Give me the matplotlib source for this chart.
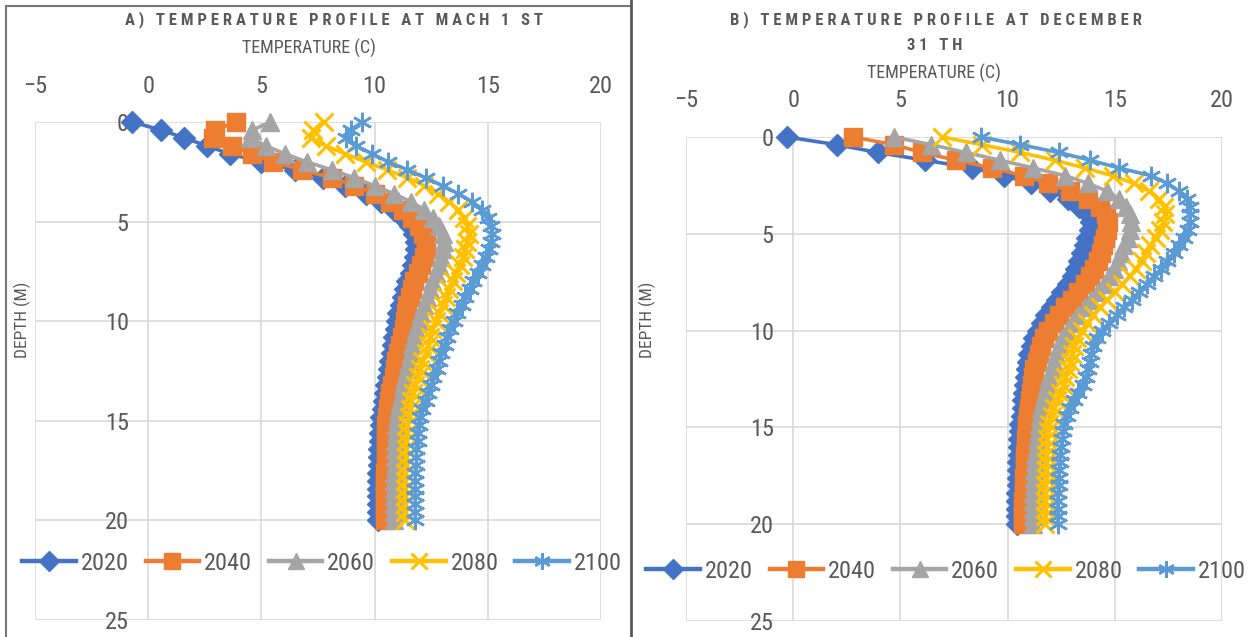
import matplotlib
matplotlib.use("Agg")
import matplotlib.pyplot as plt
from matplotlib import font_manager as fm
from matplotlib.lines import Line2D

# depth grid (m) and temperatures (C)
depth = [0.0, 0.4, 0.8, 1.2, 1.6, 2.0, 2.4, 2.8, 3.2, 3.6,
         4.0, 4.4, 4.8, 5.2, 5.6, 6.0, 6.4, 6.8, 7.2, 7.6,
         8.0, 8.4, 8.8, 9.2, 9.6, 10.0, 10.4, 10.8, 11.2, 11.6,
         12.0, 12.4, 12.8, 13.2, 13.6, 14.0, 14.4, 14.8, 15.2, 15.6,
         16.0, 16.4, 16.8, 17.2, 17.6, 18.0, 18.4, 18.8, 19.2, 19.6, 20.0]

mar_2020 = [-0.7, 0.55, 1.6, 2.6, 3.6, 5.0, 6.5, 7.7, 8.7, 9.6,
            10.3, 10.85, 11.25, 11.55, 11.75, 11.85, 11.85, 11.8, 11.7, 11.6,
            11.45, 11.35, 11.25, 11.15, 11.05, 11.0, 10.95, 10.85, 10.8, 10.75,
            10.7, 10.65, 10.6, 10.5, 10.45, 10.4, 10.35, 10.3, 10.3, 10.25,
            10.25, 10.2, 10.2, 10.2, 10.15, 10.15, 10.15, 10.15, 10.15, 10.15, 10.15]
mar_2040 = [3.9, 2.95, 2.85, 3.7, 4.6, 5.5, 6.8, 8.1, 9.1, 10.0,
            10.7, 11.25, 11.65, 11.95, 12.15, 12.25, 12.25, 12.2, 12.05, 11.9,
            11.75, 11.65, 11.55, 11.45, 11.4, 11.35, 11.3, 11.2, 11.1, 11.05,
            10.95, 10.9, 10.85, 10.75, 10.7, 10.65, 10.6, 10.55, 10.5, 10.5,
            10.5, 10.5, 10.5, 10.5, 10.45, 10.45, 10.45, 10.45, 10.45, 10.45, 10.45]
mar_2060 = [5.4, 4.6, 4.5, 5.2, 6.05, 7.0, 8.1, 9.1, 10.0, 10.85,
            11.6, 12.2, 12.6, 12.85, 13.0, 13.05, 13.0, 12.95, 12.85, 12.7,
            12.55, 12.45, 12.3, 12.2, 12.05, 11.95, 11.85, 11.75, 11.65, 11.6,
            11.5, 11.45, 11.35, 11.25, 11.2, 11.1, 11.05, 11.0, 10.95, 10.95,
            10.9, 10.9, 10.9, 10.9, 10.85, 10.85, 10.85, 10.85, 10.85, 10.85, 10.85]
mar_2080 = [7.75, 7.3, 7.2, 7.85, 8.7, 9.6, 10.55, 11.45, 12.2, 12.8,
            13.3, 13.7, 13.95, 14.1, 14.15, 14.1, 14.0, 13.9, 13.75, 13.6,
            13.45, 13.3, 13.15, 13.0, 12.85, 12.7, 12.55, 12.45, 12.35, 12.25,
            12.1, 12.0, 11.9, 11.8, 11.7, 11.6, 11.55, 11.5, 11.45, 11.45,
            11.4, 11.4, 11.4, 11.4, 11.35, 11.35, 11.35, 11.35, 11.35, 11.35, 11.35]
mar_2100 = [9.45, 8.95, 8.75, 9.2, 9.9, 10.6, 11.45, 12.25, 13.0, 13.7,
            14.3, 14.75, 15.0, 15.15, 15.2, 15.15, 15.05, 14.9, 14.75, 14.55,
            14.35, 14.2, 14.0, 13.85, 13.65, 13.5, 13.35, 13.2, 13.1, 12.95,
            12.85, 12.75, 12.6, 12.5, 12.35, 12.25, 12.1, 12.0, 11.95, 11.9,
            11.9, 11.85, 11.85, 11.85, 11.8, 11.8, 11.8, 11.8, 11.8, 11.8, 11.8]

dec_2020 = [-0.3, 2.05, 3.95, 6.15, 8.35, 9.85, 11.1, 12.0, 12.8, 13.35,
            13.75, 13.9, 13.85, 13.7, 13.6, 13.45, 13.35, 13.2, 13.05, 12.8,
            12.55, 12.3, 12.05, 11.8, 11.6, 11.4, 11.25, 11.12, 11.02, 10.95,
            10.9, 10.85, 10.8, 10.75, 10.7, 10.7, 10.65, 10.6, 10.6, 10.55,
            10.55, 10.55, 10.5, 10.5, 10.5, 10.5, 10.45, 10.45, 10.45, 10.45, 10.45]
dec_2040 = [2.8, 4.7, 6.0, 7.6, 9.25, 10.75, 11.9, 12.9, 13.75, 14.3,
            14.6, 14.7, 14.65, 14.55, 14.45, 14.35, 14.2, 14.05, 13.85, 13.6,
            13.3, 13.0, 12.7, 12.4, 12.15, 11.9, 11.7, 11.55, 11.45, 11.35,
            11.25, 11.2, 11.15, 11.1, 11.05, 11.0, 10.95, 10.9, 10.9, 10.85,
            10.85, 10.8, 10.8, 10.8, 10.75, 10.75, 10.75, 10.7, 10.7, 10.7, 10.7]
dec_2060 = [4.7, 6.45, 8.05, 9.65, 11.2, 12.7, 13.75, 14.65, 15.2, 15.5,
            15.7, 15.75, 15.7, 15.6, 15.45, 15.3, 15.15, 14.95, 14.75, 14.5,
            14.2, 13.9, 13.6, 13.3, 13.0, 12.75, 12.55, 12.4, 12.25, 12.15,
            12.05, 11.95, 11.85, 11.75, 11.65, 11.55, 11.5, 11.45, 11.4, 11.35,
            11.35, 11.3, 11.3, 11.25, 11.25, 11.25, 11.2, 11.2, 11.2, 11.2, 11.2]
dec_2080 = [6.95, 8.8, 10.6, 12.2, 13.6, 14.9, 15.9, 16.6, 17.05, 17.3,
            17.35, 17.25, 17.1, 16.9, 16.65, 16.45, 16.25, 16.0, 15.7, 15.35,
            15.0, 14.65, 14.3, 14.0, 13.7, 13.45, 13.25, 13.1, 13.0, 12.9,
            12.8, 12.7, 12.6, 12.45, 12.3, 12.15, 12.05, 11.95, 11.9, 11.85,
            11.85, 11.8, 11.8, 11.8, 11.8, 11.75, 11.75, 11.75, 11.75, 11.75, 11.75]
dec_2100 = [8.75, 10.6, 12.4, 13.85, 15.2, 16.7, 17.45, 18.0, 18.35, 18.5,
            18.5, 18.5, 18.4, 18.25, 18.0, 17.75, 17.45, 17.15, 16.85, 16.5,
            16.15, 15.8, 15.45, 15.1, 14.75, 14.4, 14.15, 14.0, 13.9, 13.82,
            13.75, 13.65, 13.5, 13.3, 13.1, 12.9, 12.75, 12.65, 12.6, 12.55,
            12.5, 12.45, 12.45, 12.4, 12.4, 12.4, 12.35, 12.35, 12.35, 12.35, 12.35]

years = ["2020", "2040", "2060", "2080", "2100"]
x_ticks = [-5, 0, 5, 10, 15, 20]
y_ticks = [0, 5, 10, 15, 20, 25]

colors = ["#4472C4", "#ED7D31", "#A5A5A5", "#FFC000", "#5B9BD5"]
markers = ["D", "s", "^", "x", (6, 2, 0)]
msizes = [11, 12.5, 13.5, 13, 14]
mews = [1, 1, 1, 2.2, 1.8]
leg_sizes = [10, 11, 11.5, 11, 12]
TXT = "#595959"

W, H = 1253, 637


def fx(px):
    return px / W


def fy(py):
    return 1 - py / H


def pick_font(names):
    for n in names:
        try:
            fm.findfont(fm.FontProperties(family=n), fallback_to_default=False)
            return n
        except ValueError:
            pass
    return "DejaVu Sans"


FONT = pick_font(["Liberation Sans Narrow", "Roboto Condensed", "Liberation Sans"])
plt.rcParams["font.family"] = [FONT, "DejaVu Sans"]


def spaced(s):
    return "   ".join(" ".join(w) for w in s.split(" "))


fig = plt.figure(figsize=(W / 100, H / 100), dpi=100)


def panel(rect, series, xpad):
    ax = fig.add_axes(rect)
    for vals, yr, c, m, ms, mw in zip(series, years, colors, markers, msizes, mews):
        ax.plot(vals, depth, color=c, lw=2.6, marker=m, ms=ms, mfc=c, mec=c,
                mew=mw, label=yr, clip_on=False)
    ax.set_xlim(-5, 20)
    ax.set_ylim(25, 0)
    ax.set_xticks(x_ticks)
    ax.set_yticks(y_ticks)
    ax.xaxis.tick_top()
    ax.grid(True, color="#d9d9d9", lw=1.2)
    ax.set_axisbelow(True)
    for s in ["top", "right", "bottom"]:
        ax.spines[s].set_visible(False)
    ax.spines["left"].set_position(("data", 0))
    ax.spines["left"].set_color("none")
    ax.tick_params(axis="both", length=0, labelsize=17.5, labelcolor=TXT)
    ax.tick_params(axis="x", pad=xpad)
    ax.tick_params(axis="y", pad=14)
    return ax


ax_a = panel([fx(35), fy(620), fx(601) - fx(35), fy(122) - fy(620)],
             [mar_2020, mar_2040, mar_2060, mar_2080, mar_2100], 17)
ax_b = panel([fx(686), fy(621), fx(1222) - fx(686), fy(137) - fy(621)],
             [dec_2020, dec_2040, dec_2060, dec_2080, dec_2100], 18)

# titles and axis titles
fig.text(fx(334), fy(20), spaced("A) TEMPERATURE PROFILE AT MACH 1 ST"),
         ha="center", va="center", fontsize=12, fontweight="bold", color=TXT)
fig.text(fx(309), fy(48), "TEMPERATURE (C)", ha="center", va="center",
         fontsize=13, color=TXT)
fig.text(fx(22), fy(320), "DEPTH (M)", ha="center", va="center",
         rotation=90, fontsize=12.5, color=TXT)

fig.text(fx(936), fy(20), spaced("B) TEMPERATURE PROFILE AT DECEMBER"),
         ha="center", va="center", fontsize=12, fontweight="bold", color=TXT)
fig.text(fx(935), fy(45), spaced("31 TH"), ha="center", va="center",
         fontsize=12, fontweight="bold", color=TXT)
fig.text(fx(934), fy(73), "TEMPERATURE (C)", ha="center", va="center",
         fontsize=13, color=TXT)
fig.text(fx(647), fy(320), "DEPTH (M)", ha="center", va="center",
         rotation=90, fontsize=12.5, color=TXT)

# legends
handles = [Line2D([], [], color=c, lw=3.2, marker=m, ms=ms, mfc=c, mec=c, mew=mw)
           for c, m, ms, mw in zip(colors, markers, leg_sizes, mews)]
for cx, cy in [(322, 563), (946, 571)]:
    fig.legend(handles, years, loc="center", bbox_to_anchor=(fx(cx), fy(cy)),
               ncol=5, frameon=False, fontsize=17.5, labelcolor=TXT,
               handlelength=2.2, handletextpad=0.2, columnspacing=0.7)

# chart borders
fig.add_artist(Line2D([fx(6), fx(6)], [fy(6), 0], color="#767676", lw=1.5))
fig.add_artist(Line2D([fx(6), fx(630)], [fy(6), fy(6)], color="#767676", lw=1.5))
fig.add_artist(Line2D([fx(631), fx(631)], [1, 0], color="#5a5a5a", lw=2))

fig.savefig("out.png", dpi=100)
